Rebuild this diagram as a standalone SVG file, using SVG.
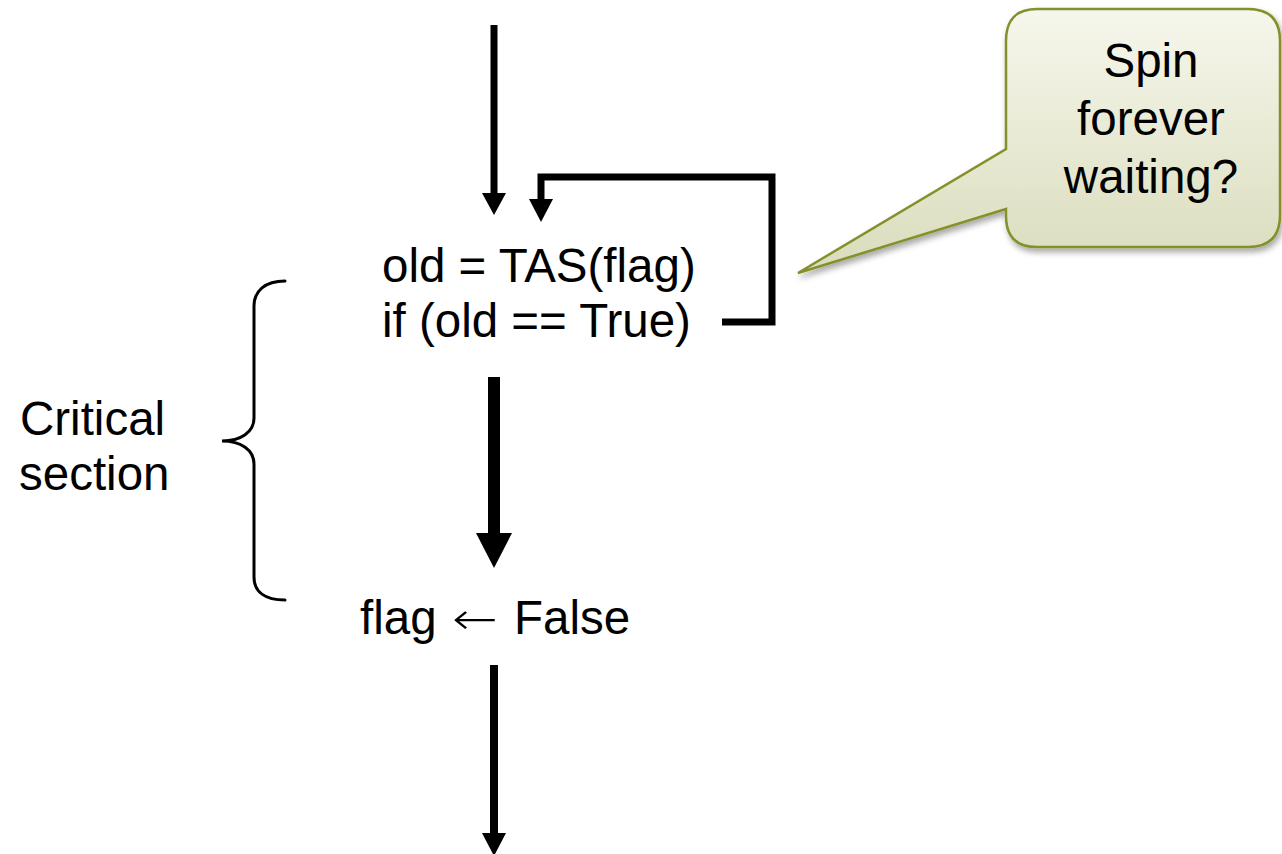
<svg xmlns="http://www.w3.org/2000/svg" width="1282" height="854" viewBox="0 0 1282 854">
<style>
.t{font-family:"Liberation Sans",Arial,sans-serif;font-size:47.5px;fill:#000}
.arr{font-family:"DejaVu Sans",sans-serif;font-size:44px;font-weight:200}
.shaft{stroke:#000;fill:none;stroke-linecap:butt;stroke-linejoin:miter}
.head{fill:#000}
</style>
<defs>
<linearGradient id="cg" x1="0" y1="0" x2="0" y2="1">
<stop offset="0" stop-color="#f6f7ec"/>
<stop offset="1" stop-color="#dadcbc"/>
</linearGradient>
<filter id="sh" x="-10%" y="-10%" width="130%" height="130%">
<feGaussianBlur in="SourceAlpha" stdDeviation="3"/>
<feOffset dx="2" dy="4" result="b"/>
<feComponentTransfer><feFuncA type="linear" slope="0.35"/></feComponentTransfer>
<feMerge><feMergeNode/><feMergeNode in="SourceGraphic"/></feMerge>
</filter>
</defs>
<rect width="1282" height="854" fill="#fff"/>

<g id="connectors">
<line class="shaft" x1="494" y1="25" x2="494" y2="195" stroke-width="7"/>
<polygon class="head" points="482,193 506,193 494,215"/>
<path class="shaft" d="M722,322 L772,322 L772,177 L541,177 L541,201" stroke-width="7"/>
<polygon class="head" points="529,199 553,199 541,222"/>
<line class="shaft" x1="494" y1="377" x2="494" y2="535" stroke-width="12"/>
<polygon class="head" points="476,533 512,533 494,568"/>
<line class="shaft" x1="494" y1="665" x2="494" y2="835" stroke-width="8"/>
<polygon class="head" points="482,833 506,833 494,856"/>
</g>

<g id="tas">
<text class="t" x="382" y="282">old = TAS(flag)</text>
<text class="t" x="382" y="337">if (old == True)</text>
</g>

<g id="release">
<text class="t" x="360" y="634">flag</text>
<text class="t arr" x="452" y="634" textLength="46" lengthAdjust="spacingAndGlyphs">←</text>
<text class="t" x="514" y="634">False</text>
</g>

<g id="critical">
<path d="M285,281 C265,281 254,291 254,306 L254,418 C254,432 241,441 222,441 C241,441 254,450 254,464 L254,577 C254,592 265,600 285,600" fill="none" stroke="#000" stroke-width="3" stroke-linecap="round"/>
<text class="t" x="20" y="435">Critical</text>
<text class="t" x="19" y="490">section</text>
</g>

<g id="callout">
<path d="M1037,9 L1248,9 Q1280,9 1280,41 L1280,215 Q1280,247 1248,247 L1037,247 Q1006,247 1006,216 L1006,209 L798,273 L1006,149 L1006,41 Q1006,9 1037,9 Z" fill="url(#cg)" stroke="#86902c" stroke-width="2.5" stroke-linejoin="miter" filter="url(#sh)"/>
<text class="t" x="1151" y="77" text-anchor="middle">Spin</text>
<text class="t" x="1151" y="135" text-anchor="middle">forever</text>
<text class="t" x="1151" y="193" text-anchor="middle">waiting?</text>
</g>
</svg>
